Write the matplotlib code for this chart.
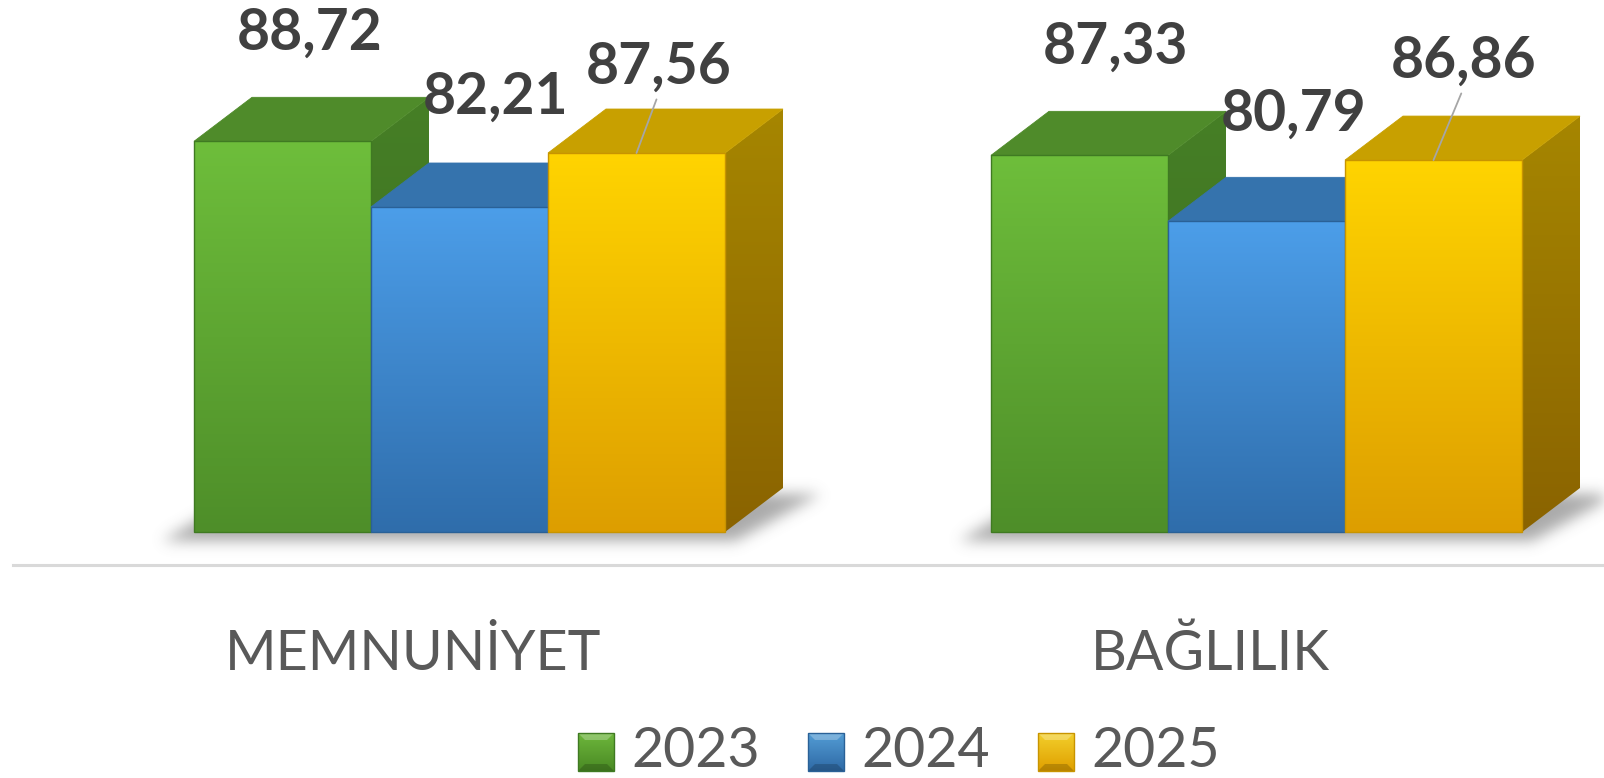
"""
Satisfaction / loyalty scores by year, drawn as extruded (pseudo-3D) bars.
"""

import matplotlib
matplotlib.use("Agg")
import matplotlib.pyplot as plt
import numpy as np
from matplotlib.colors import LinearSegmentedColormap
from matplotlib.lines import Line2D
from matplotlib.patches import Polygon
from matplotlib.path import Path
from matplotlib.transforms import IdentityTransform

# ---------------------------------------------------------------------------
# Data
# ---------------------------------------------------------------------------
categories = ["MEMNUNİYET", "BAĞLILIK"]
years = ["2023", "2024", "2025"]
scores_2023 = [88.72, 87.33]
scores_2024 = [82.21, 80.79]
scores_2025 = [87.56, 86.86]
series = [scores_2023, scores_2024, scores_2025]

# ---------------------------------------------------------------------------
# Layout (pixels, figure is 1604 x 778 at 100 dpi)
# ---------------------------------------------------------------------------
W, H = 1604, 778
AXIS_MIN = 50.0
PX_PER_UNIT = 10.09
BASE_PX = 246                 # height of the bar floor above the bottom edge
BAR_W = 177
GROUP_LEFT = [194, 991]
DEPTH_X = 58                  # extrusion in pixels
DEPTH_YPX = 44
DEPTH_Y = DEPTH_YPX / PX_PER_UNIT

# front gradient (top, bottom), top face, side gradient (top, bottom)
STYLES = [
    dict(front=("#6ebe3b", "#4e8e29"), top="#4f8b2a", side=("#467f26", "#3b6c1f"),
         edge="#3f7a22", legend=("#86d64c", "#4a8a24")),
    dict(front=("#4c9ee9", "#2f6dab"), top="#3573ad", side=("#2f659b", "#265482"),
         edge="#2a6197", legend=("#6cc0f5", "#2f6aa6")),
    dict(front=("#ffd400", "#dd9e00"), top="#c8a000", side=("#a68600", "#8a6300"),
         edge="#c89400", legend=("#fff04a", "#e0a000")),
]

# label offsets from the front-top centre of each bar (pixels): per year, per group
LABEL_OFFSETS = [
    [(27, 92), (36, 92)],
    [(36, 93), (37, 91)],
    [(22, 69), (30, 82)],
]

VALUE_FONT = dict(family=["Lato", "DejaVu Sans"], fontsize=41, fontweight="bold", color="#404040")
TEXT_FONT = dict(family=["Lato", "DejaVu Sans"], color="#595959")

fig = plt.figure(figsize=(W / 100, H / 100), dpi=100)
ax = fig.add_axes([0, 0, 1, 1])
y_lo = AXIS_MIN - BASE_PX / PX_PER_UNIT
y_hi = y_lo + H / PX_PER_UNIT


def gradient_poly(verts, c_top, c_bot, z):
    """Fill a polygon with a vertical two-colour gradient."""
    poly = Polygon(verts, closed=True, facecolor="none", edgecolor="none", zorder=z)
    ax.add_patch(poly)
    xs = [v[0] for v in verts]
    ys = [v[1] for v in verts]
    cmap = LinearSegmentedColormap.from_list("g", [c_bot, c_top])
    grad = np.linspace(0, 1, 256).reshape(-1, 1)
    im = ax.imshow(grad, cmap=cmap, origin="lower", aspect="auto", zorder=z,
                   extent=(min(xs), max(xs), min(ys), max(ys)), interpolation="bilinear")
    im.set_clip_path(poly)


def blur(a, sigma):
    r = int(3 * sigma)
    k = np.exp(-0.5 * (np.arange(-r, r + 1) / sigma) ** 2)
    k /= k.sum()
    a = np.apply_along_axis(lambda m: np.convolve(m, k, mode="same"), 1, a)
    a = np.apply_along_axis(lambda m: np.convolve(m, k, mode="same"), 0, a)
    return a


# ---------------------------------------------------------------------------
# Soft floor shadow under each group
# ---------------------------------------------------------------------------
gx, gy = np.meshgrid(np.arange(W) + 0.5, np.arange(H) + 0.5)
pts = np.column_stack([gx.ravel(), gy.ravel()])
mask = np.zeros(W * H)
for left in GROUP_LEFT:
    right = left + 3 * BAR_W
    shape = Path([(left - 32, BASE_PX - 9), (right + 10, BASE_PX - 9),
                  (right + DEPTH_X + 38, BASE_PX + DEPTH_YPX - 6),
                  (left + DEPTH_X, BASE_PX + DEPTH_YPX)])
    mask = np.maximum(mask, shape.contains_points(pts))
alpha = blur(mask.reshape(H, W), 7) * 0.6
shadow = np.zeros((H, W, 4))
shadow[..., :3] = 0.45
shadow[..., 3] = alpha
ax.imshow(shadow, origin="lower", extent=(0, W, y_lo, y_hi), aspect="auto", zorder=1)

# ---------------------------------------------------------------------------
# Bars
# ---------------------------------------------------------------------------
z = 2
for g, left in enumerate(GROUP_LEFT):
    for s, vals in enumerate(series):
        st = STYLES[s]
        v = vals[g]
        x0 = left + s * BAR_W
        x1 = x0 + BAR_W
        front = [(x0, AXIS_MIN), (x1, AXIS_MIN), (x1, v), (x0, v)]
        top = [(x0, v), (x1, v), (x1 + DEPTH_X, v + DEPTH_Y), (x0 + DEPTH_X, v + DEPTH_Y)]
        side = [(x1, AXIS_MIN), (x1 + DEPTH_X, AXIS_MIN + DEPTH_Y),
                (x1 + DEPTH_X, v + DEPTH_Y), (x1, v)]
        gradient_poly(side, st["side"][0], st["side"][1], z)
        ax.add_patch(Polygon(top, closed=True, facecolor=st["top"],
                             edgecolor=st["top"], linewidth=0.6, zorder=z + 0.5))
        gradient_poly(front, st["front"][0], st["front"][1], z + 1)
        ax.add_patch(Polygon(front, closed=True, facecolor="none",
                             edgecolor=st["edge"], linewidth=1.0, zorder=z + 1.5))
        z += 2

# value labels
for s, vals in enumerate(series):
    for g, left in enumerate(GROUP_LEFT):
        v = vals[g]
        xc = left + s * BAR_W + BAR_W / 2
        ox, oy = LABEL_OFFSETS[s][g]
        kw = {}
        if s == 2:
            kw["arrowprops"] = dict(arrowstyle="-", color="#a6a6a6", lw=1.3,
                                    shrinkA=2, shrinkB=0, relpos=(0.5, 0.0))
        ax.annotate(f"{v:.2f}".replace(".", ","), (xc, v), xytext=(ox, oy),
                    textcoords="offset pixels", ha="center", va="baseline",
                    zorder=50, **VALUE_FONT, **kw)

# category axis line and labels
fig.add_artist(Line2D([13 / W, 1.0], [213 / H, 213 / H], color="#d9d9d9", lw=2.2))
for g, left in enumerate(GROUP_LEFT):
    cx = left + 1.5 * BAR_W - 46
    ax.annotate(categories[g], (cx, 108), xycoords=("data", "figure pixels"),
                ha="center", va="baseline", fontsize=40, **TEXT_FONT)

# ---------------------------------------------------------------------------
# Legend
# ---------------------------------------------------------------------------
LEG_X = [578, 808, 1038]
for i, year in enumerate(years):
    st = STYLES[i]
    x0, y0, w, h = LEG_X[i], 7, 36, 38
    cmap = LinearSegmentedColormap.from_list("l", [st["legend"][1], st["legend"][0]])
    sq = Polygon([(x0, y0), (x0 + w, y0), (x0 + w, y0 + h), (x0, y0 + h)], closed=True,
                 transform=IdentityTransform(), facecolor="none", edgecolor="none")
    fig.add_artist(sq)
    im = fig.figimage(np.linspace(0, 1, 64).reshape(-1, 1) * np.ones((1, w)),
                      xo=x0, yo=y0, cmap=cmap, origin="lower", zorder=5)
    im.set_clip_path(sq)
    # bevel facets
    inset = 7
    fig.add_artist(Polygon([(x0, y0 + h), (x0 + w, y0 + h), (x0 + w - inset, y0 + h - inset),
                            (x0 + inset, y0 + h - inset)], closed=True, transform=IdentityTransform(),
                           facecolor="white", alpha=0.25, edgecolor="none", zorder=6))
    fig.add_artist(Polygon([(x0, y0), (x0 + w, y0), (x0 + w - inset, y0 + inset),
                            (x0 + inset, y0 + inset)], closed=True, transform=IdentityTransform(),
                           facecolor="black", alpha=0.18, edgecolor="none", zorder=6))
    fig.add_artist(Polygon([(x0, y0), (x0 + w, y0), (x0 + w, y0 + h), (x0, y0 + h)], closed=True,
                           transform=IdentityTransform(), facecolor="none",
                           edgecolor=st["edge"], lw=1.0, zorder=7))
    fig.text((x0 + w + 17) / W, 1 / H, year, ha="left", va="bottom", fontsize=40, **TEXT_FONT)

ax.set_xlim(0, W)
ax.set_ylim(y_lo, y_hi)
ax.axis("off")

fig.savefig("out.png", dpi=100, facecolor="white")
plt.close(fig)
